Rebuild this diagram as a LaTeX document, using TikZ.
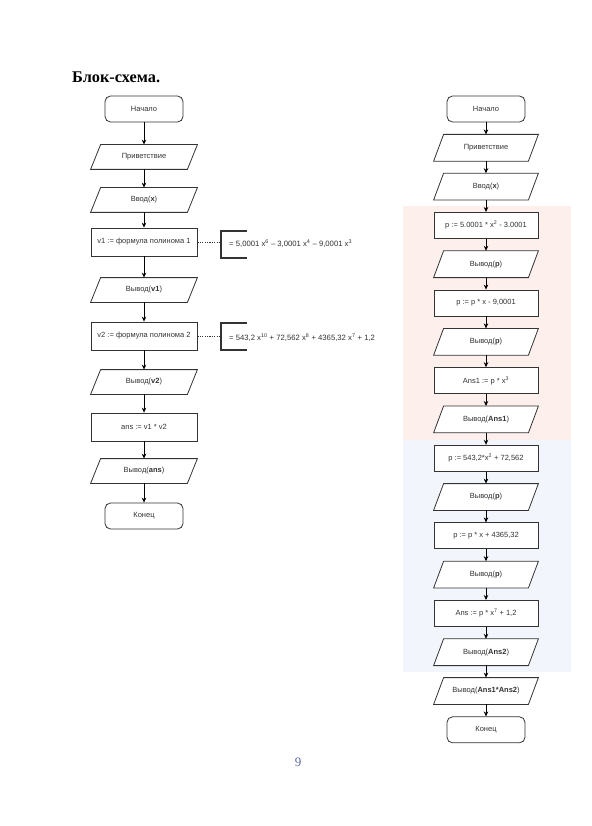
\documentclass[tikz,border=0pt]{standalone}
\usepackage{fontspec}
\setmainfont{Liberation Sans}
\newfontfamily\titlefont{Liberation Serif}
\usetikzlibrary{arrows.meta}

\definecolor{ink}{HTML}{333333}
\definecolor{pinkbg}{HTML}{FCEFEC}
\definecolor{bluebg}{HTML}{F2F6FC}
\definecolor{pagenum}{HTML}{5A6AA8}

\pgfdeclarelayer{tint}
\pgfdeclarelayer{outline}
\pgfsetlayers{tint,outline,main}

\tikzset{
  base/.style={draw=ink, fill=white, line width=0.8pt, text=ink, font=\fontsize{7.5}{9}\selectfont, inner sep=1pt},
  term/.style={base, rectangle, rounded corners=5.5pt, minimum width=78pt, minimum height=26pt},
  proc/.style={base, rectangle, minimum width=104pt, minimum height=26pt},
  % input/output block: text box only, the slanted outline is added afterwards
  io/.style={base, draw=none, fill=none, rectangle, minimum width=104pt, minimum height=26pt},
  lproc/.style={proc, minimum width=106pt, minimum height=28pt},
  lio/.style={io, minimum width=106pt, minimum height=24pt},
  iobox/.style={draw=ink, fill=white, line width=0.8pt},
  flow/.style={draw=black, line width=0.7pt, -{Stealth[length=5pt,width=4.5pt]}},
  note/.style={draw=none, text=ink, font=\fontsize{7.7}{9}\selectfont, inner sep=0pt, anchor=west},
  bracket/.style={draw=ink, line width=1.6pt},
  link/.style={draw=ink, line width=0.6pt, dash pattern=on 1.2pt off 1.2pt},
}

\begin{document}
\begin{tikzpicture}[x=1pt,y=-1pt]
\useasboundingbox (0,0) rectangle (591,826);

% shaded groups of the right-hand scheme
\begin{pgfonlayer}{tint}
\fill[white] (0,0) rectangle (591,826);
\fill[pinkbg] (403,206) rectangle (571,440);
\fill[bluebg] (403,440) rectangle (571,672);
\end{pgfonlayer}

% heading and page number
\node[anchor=west, inner sep=0pt, font=\titlefont\bfseries\fontsize{16.3}{19}\selectfont] (title) at (72,77) {Блок-схема.};
\node[inner sep=0pt, text=pagenum, font=\titlefont\fontsize{13}{15}\selectfont] (page) at (298,762) {9};

% ---- left scheme: direct evaluation ----
\node[term]  (l0) at (144,109) {Начало};
\node[lio]   (l1) at (144,157) {Приветствие};
\node[lio]   (l2) at (144,200) {Ввод(\textbf{x})};
\node[lproc] (l3) at (144,242) {v1 := формула полинома 1};
\node[lio]   (l4) at (144,290) {Вывод(\textbf{v1})};
\node[lproc] (l5) at (144,336) {v2 := формула полинома 2};
\node[lio]   (l6) at (144,382) {Вывод(\textbf{v2})};
\node[lproc] (l7) at (144,427) {ans := v1 * v2};
\node[lio]   (l8) at (144,471) {Вывод(\textbf{ans})};
\node[term]  (l9) at (144,516) {Конец};

\foreach \a/\b in {l0/l1,l1/l2,l2/l3,l3/l4,l4/l5,l5/l6,l6/l7,l7/l8,l8/l9}
  \draw[flow] (\a.south) -- (\b.north);

% annotations with the polynomials
\node[note] (n1) at (229,244) {= 5,0001 x\textsuperscript{6} – 3,0001 x\textsuperscript{4} – 9,0001 x\textsuperscript{3}};
\node[note] (n2) at (229,338) {= 543,2 x\textsuperscript{10} + 72,562 x\textsuperscript{8} + 4365,32 x\textsuperscript{7} + 1,2};
\coordinate (b1) at (221,242);
\coordinate (b2) at (221,336);
\draw[bracket] (247,231) -- (221,231) -- (221,258) -- (247,258);
\draw[bracket] (247,323) -- (221,323) -- (221,350) -- (247,350);
\draw[link] (l3.east) -- (b1);
\draw[link] (l5.east) -- (b2);

% ---- right scheme: Horner-style evaluation ----
\node[term] (r0)  at (486,109.0) {Начало};
\node[io]   (r1)  at (486,147.8) {Приветствие};
\node[io]   (r2)  at (486,186.6) {Ввод(\textbf{x})};
\node[proc] (r3)  at (486,225.4) {p := 5.0001 * x\textsuperscript{2} - 3.0001};
\node[io]   (r4)  at (486,264.2) {Вывод(\textbf{p})};
\node[proc] (r5)  at (486,303.0) {p := p * x - 9,0001};
\node[io]   (r6)  at (486,341.8) {Вывод(\textbf{p})};
\node[proc] (r7)  at (486,380.6) {Ans1 := p * x\textsuperscript{3}};
\node[io]   (r8)  at (486,419.4) {Вывод(\textbf{Ans1})};
\node[proc] (r9)  at (486,458.2) {p := 543,2*x\textsuperscript{2} + 72,562};
\node[io]   (r10) at (486,497.0) {Вывод(\textbf{p})};
\node[proc] (r11) at (486,535.8) {p := p * x + 4365,32};
\node[io]   (r12) at (486,574.6) {Вывод(\textbf{p})};
\node[proc] (r13) at (486,613.4) {Ans := p * x\textsuperscript{7} + 1,2};
\node[io]   (r14) at (486,652.2) {Вывод(\textbf{Ans2})};
\node[io]   (r15) at (486,691.0) {Вывод(\textbf{Ans1*Ans2})};
\node[term] (r16) at (486,729.8) {Конец};

\foreach \i [evaluate=\i as \j using int(\i+1)] in {0,...,15}
  \draw[flow] (r\i.south) -- (r\j.north);

% slanted outlines of the input/output blocks, under their texts
\begin{pgfonlayer}{outline}
\foreach \n in {l1,l2,l4,l6,l8,r1,r2,r4,r6,r8,r10,r12,r14,r15}
  \draw[iobox] (\n.south west) -- ([xshift=-10pt]\n.south east)
    -- (\n.north east) -- ([xshift=10pt]\n.north west) -- cycle;
\end{pgfonlayer}
\end{tikzpicture}
\end{document}
